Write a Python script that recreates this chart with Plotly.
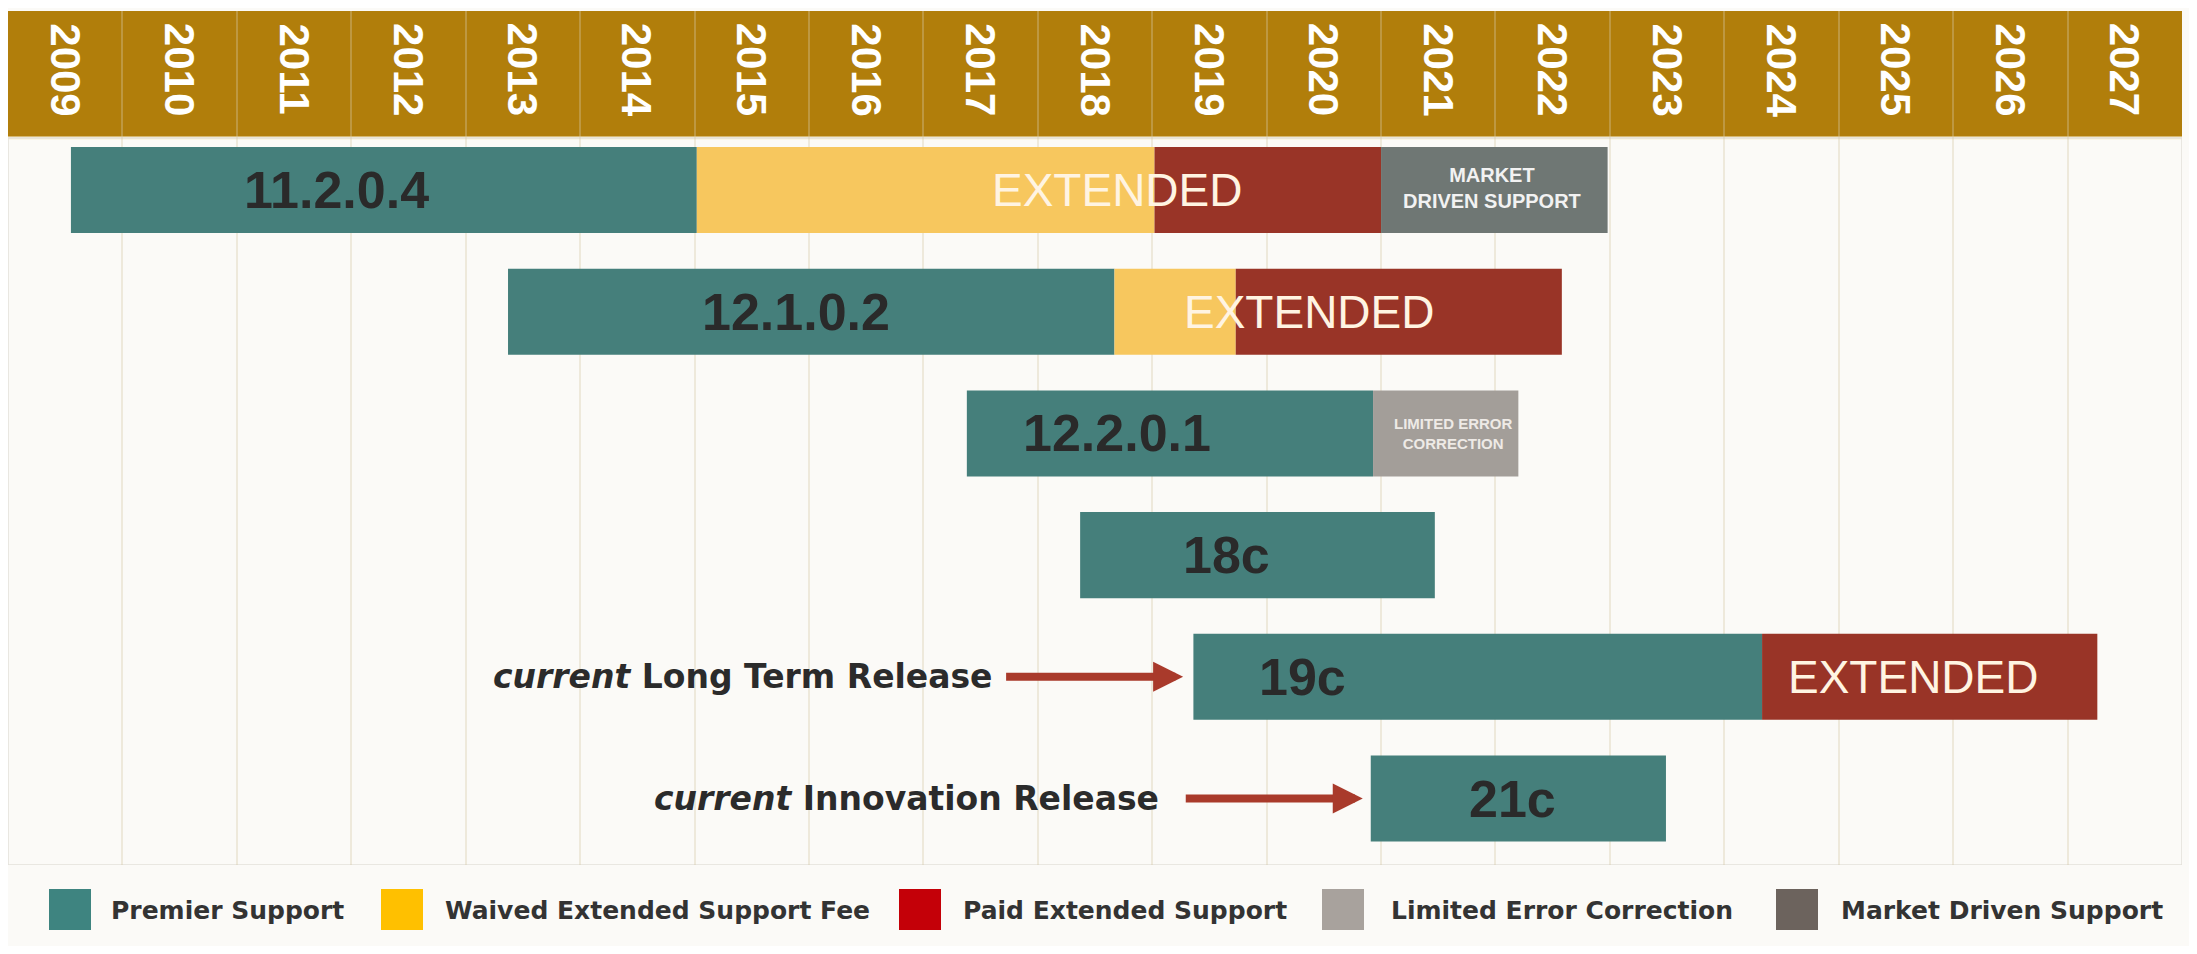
import plotly.graph_objects as go

# ---------------- data ----------------
years = list(range(2009, 2028))
versions = ["11.2.0.4", "12.1.0.2", "12.2.0.1", "18c", "19c", "21c"]
rows = list(range(len(versions)))

# Premier Support
premier_start = [2009.55, 2013.37, 2017.38, 2018.37, 2019.36, 2020.91]
premier_end = [2015.02, 2018.67, 2020.93, 2021.47, 2024.33, 2023.49]

# Waived Extended Support Fee
waived_rows = [0, 1]
waived_start = [2015.02, 2018.67]
waived_end = [2019.02, 2019.73]

# Paid Extended Support
paid_rows = [0, 1, 4]
paid_start = [2019.02, 2019.73, 2024.33]
paid_end = [2021.00, 2022.58, 2027.26]

# Limited Error Correction
lec_rows = [2]
lec_start = [2020.93]
lec_end = [2022.20]

# Market Driven Support
mds_rows = [0]
mds_start = [2021.00]
mds_end = [2022.98]

# in-bar labels (x in years)
version_label_x = [2011.87, 2015.89, 2018.69, 2019.65, 2020.31, 2022.15]
extended_rows = [0, 1, 4]
extended_label_x = [2018.69, 2020.37, 2025.65]
mds_label_x = [2021.97]
lec_label_x = [2021.63]

# call-out arrows
arrow_rows = [4, 5]
arrow_labels = ["<i>current</i> Long Term Release", "<i>current</i> Innovation Release"]
arrow_label_right = [2017.63, 2019.08]
arrow_tail = [2017.71, 2019.28]
arrow_tip = [2019.27, 2020.84]

legend_labels = ["Premier Support", "Waived Extended Support Fee", "Paid Extended Support",
                 "Limited Error Correction", "Market Driven Support"]

# ---------------- style ----------------
BAR_COLORS = {"premier": "#457F7B", "waived": "#F7C75E", "paid": "#993427",
              "lec": "#A39E99", "mds": "#6F7774"}
LEGEND_COLORS = ["#3E8480", "#FFC000", "#C40008", "#A8A29D", "#6C635D"]
HEADER_COLOR = "#B17E0B"
BG = "#FBFAF7"

# the page body adds an 8px margin; work in absolute window pixels
PAGE_OFF = 8
W, H = 2197 - 2 * PAGE_OFF, 954 - 2 * PAGE_OFF
PLOT_X0, PLOT_X1, PLOT_Y0, PLOT_Y1 = 8, 2182, 11, 865   # absolute window pixels
ML = PLOT_X0 - PAGE_OFF
MR = (PAGE_OFF + W) - PLOT_X1
MT = PLOT_Y0 - PAGE_OFF
MB = (PAGE_OFF + H) - PLOT_Y1

Y_TOP, Y_BOTTOM = -1.471, 5.546
HEADER_BOTTOM = -0.427
BAR_WIDTH = 0.707

fig = go.Figure()


def add_segments(name, rws, starts, ends, color):
    fig.add_trace(go.Bar(
        name=name, y=rws, base=starts, x=[e - s for s, e in zip(starts, ends)],
        orientation="h", width=BAR_WIDTH,
        marker=dict(color=color, line=dict(width=0)),
        showlegend=False,
        customdata=[[versions[r]] for r in rws],
        hovertemplate="%{customdata[0]}<br>" + name + "<extra></extra>",
    ))


add_segments(legend_labels[0], rows, premier_start, premier_end, BAR_COLORS["premier"])
add_segments(legend_labels[1], waived_rows, waived_start, waived_end, BAR_COLORS["waived"])
add_segments(legend_labels[2], paid_rows, paid_start, paid_end, BAR_COLORS["paid"])
add_segments(legend_labels[3], lec_rows, lec_start, lec_end, BAR_COLORS["lec"])
add_segments(legend_labels[4], mds_rows, mds_start, mds_end, BAR_COLORS["mds"])

annotations = []
shapes = []

# header band
shapes.append(dict(type="rect", xref="x", yref="y", x0=years[0], x1=years[-1] + 1,
                   y0=Y_TOP, y1=HEADER_BOTTOM, fillcolor=HEADER_COLOR,
                   line=dict(width=0), layer="below"))
# thin light rule under the header
shapes.append(dict(type="line", xref="x", yref="y", x0=years[0], x1=years[-1] + 1,
                   y0=HEADER_BOTTOM, y1=HEADER_BOTTOM,
                   line=dict(width=3, color="#FBF1D6"), layer="below"))
# body border
shapes.append(dict(type="rect", xref="x", yref="y", x0=years[0], x1=years[-1] + 1,
                   y0=HEADER_BOTTOM, y1=Y_BOTTOM, fillcolor="rgba(0,0,0,0)",
                   line=dict(width=1.5, color="#E4E1DA"), layer="below"))

# year labels
for yr in years:
    annotations.append(dict(x=yr + 0.5, y=Y_TOP, xref="x", yref="y", text=str(yr),
                            showarrow=False, textangle=90, xanchor="center", yanchor="top",
                            yshift=-10,
                            font=dict(family="Liberation Sans, Arial, sans-serif", size=42,
                                      color="#FFFFFF", weight="bold")))

# version labels
for r, v, lx in zip(rows, versions, version_label_x):
    annotations.append(dict(x=lx, y=r, xref="x", yref="y", text=v, showarrow=False,
                            xanchor="center", yanchor="middle",
                            font=dict(family="Liberation Sans, Arial, sans-serif", size=52,
                                      color="#2A2A2A", weight="bold")))

# EXTENDED labels
for r, lx in zip(extended_rows, extended_label_x):
    annotations.append(dict(x=lx, y=r, xref="x", yref="y", text="EXTENDED", showarrow=False,
                            xanchor="center", yanchor="middle",
                            font=dict(family="Liberation Sans, Arial, sans-serif", size=46,
                                      color="#FFF4E2")))

for r, lx in zip(mds_rows, mds_label_x):
    annotations.append(dict(x=lx, y=r - 0.02, xref="x", yref="y",
                            text="MARKET<br>DRIVEN SUPPORT", showarrow=False,
                            xanchor="center", yanchor="middle",
                            font=dict(family="Liberation Sans, Arial, sans-serif", size=20,
                                      color="#F2F2F2", weight="bold")))

for r, lx in zip(lec_rows, lec_label_x):
    annotations.append(dict(x=lx, y=r, xref="x", yref="y",
                            text="LIMITED ERROR<br>CORRECTION", showarrow=False,
                            xanchor="center", yanchor="middle",
                            font=dict(family="Liberation Sans, Arial, sans-serif", size=15,
                                      color="#EEEAE6", weight="bold")))

# call-out labels and arrows
for r, lab, lr, tail, tip in zip(arrow_rows, arrow_labels, arrow_label_right, arrow_tail, arrow_tip):
    annotations.append(dict(x=lr, y=r, xref="x", yref="y", text=lab, showarrow=False,
                            xanchor="right", yanchor="middle",
                            font=dict(family="DejaVu Sans, sans-serif", size=33,
                                      color="#2B2B2B", weight="bold")))
    annotations.append(dict(x=tip, y=r, xref="x", yref="y", ax=tail, ay=r, axref="x", ayref="y",
                            text="", showarrow=True, arrowhead=2, arrowsize=0.75,
                            arrowwidth=8, arrowcolor="#A93A2B", standoff=0, startstandoff=0))

# legend (drawn manually for large swatches); absolute window pixels
plot_w = PLOT_X1 - PLOT_X0
plot_h = PLOT_Y1 - PLOT_Y0
swatch_px = [49, 381, 899, 1322, 1776]
text_px = [109, 443, 961, 1389, 1839]
SW_W, SW_Y0, SW_Y1, TXT_Y = 42, 889, 930, 910


def px_x(p):
    return (p - PLOT_X0) / plot_w


def px_y(p):
    return (PLOT_Y1 - p) / plot_h


for lab, col, sx, tx in zip(legend_labels, LEGEND_COLORS, swatch_px, text_px):
    shapes.append(dict(type="rect", xref="paper", yref="paper",
                       x0=px_x(sx), x1=px_x(sx + SW_W), y0=px_y(SW_Y1), y1=px_y(SW_Y0),
                       fillcolor=col, line=dict(width=0)))
    annotations.append(dict(x=px_x(tx), y=px_y(TXT_Y), xref="paper", yref="paper", text=lab,
                            showarrow=False, xanchor="left", yanchor="middle",
                            font=dict(family="DejaVu Sans, sans-serif", size=25,
                                      color="#333333", weight="bold")))

fig.update_layout(
    width=W, height=H,
    margin=dict(l=ML, r=MR, t=MT, b=MB, pad=0),
    paper_bgcolor=BG, plot_bgcolor=BG,
    barmode="overlay",
    showlegend=False,
    xaxis=dict(range=[years[0], years[-1] + 1], tickmode="array", tickvals=years[1:],
               showticklabels=False, ticks="", showgrid=True,
               gridcolor="rgba(215,200,165,0.35)", gridwidth=1.5,
               zeroline=False, showline=False, fixedrange=True),
    yaxis=dict(range=[Y_BOTTOM, Y_TOP], showticklabels=False, ticks="", showgrid=False,
               zeroline=False, showline=False, fixedrange=True),
    shapes=shapes,
    annotations=annotations,
)

fig.write_html("out.html")
